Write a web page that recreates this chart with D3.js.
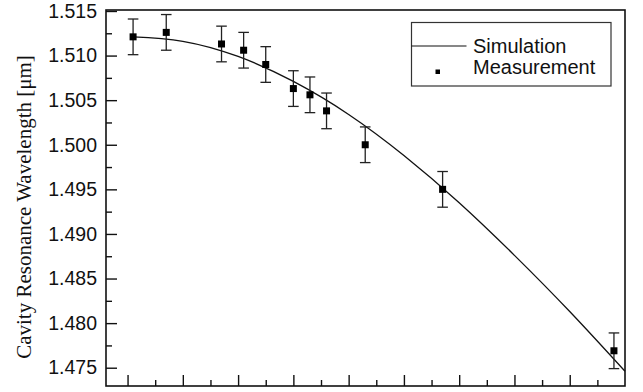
<!DOCTYPE html>
<html>
<head>
<meta charset="utf-8">
<script src="https://cdn.jsdelivr.net/npm/d3@7"></script>
<style>
  body { margin: 0; background: #fff; }
  svg text { fill: #111; }
</style>
</head>
<body>
<svg id="chart" width="643" height="392"></svg>
<script>
// measured points (x in axis units, y in um), all with +/- err
const measX = [0.1, 0.7, 1.7, 2.1, 2.5, 3.0, 3.3, 3.6, 4.3, 5.7, 8.8];
const measY = [1.5121, 1.5126, 1.5113, 1.5106, 1.5090, 1.5063, 1.5056, 1.5038, 1.5000, 1.4950, 1.4769];
const measErr = [0.002, 0.002, 0.002, 0.002, 0.002, 0.002, 0.002, 0.002, 0.002, 0.002, 0.002];

// simulation curve
const simX = [0.1, 1, 2, 3, 4, 5, 6, 7, 8, 9];
const simY = [1.5121, 1.5116, 1.5099, 1.5071, 1.5034, 1.4988, 1.4935, 1.4876, 1.4813, 1.4746];

const yTicks = [1.475, 1.480, 1.485, 1.490, 1.495, 1.500, 1.505, 1.510, 1.515];
const xTicks = [0, 1, 2, 3, 4, 5, 6, 7, 8];

const svg = d3.select('#chart');
const m = { left: 106, top: 10, right: 625, bottom: 386 };

const x = d3.scaleLinear().domain([-0.39, 9]).range([m.left, m.right]);
const y = d3.scaleLinear().domain([1.47295, 1.51511]).range([m.bottom, m.top]);

// minor ticks halfway
const yMinor = yTicks.slice(0, -1).map(v => v + 0.0025);
const xMinor = xTicks.map(v => v + 0.5);

const yAxis = d3.axisLeft(y).tickValues(yTicks).tickFormat(d3.format('.3f'))
  .tickSizeInner(-11).tickSizeOuter(0).tickPadding(9);
const yAxisMinor = d3.axisLeft(y).tickValues(yMinor).tickFormat('')
  .tickSizeInner(-6).tickSizeOuter(0);
const xAxis = d3.axisBottom(x).tickValues(xTicks).tickFormat('')
  .tickSizeInner(-11).tickSizeOuter(0);
const xAxisMinor = d3.axisBottom(x).tickValues(xMinor).tickFormat('')
  .tickSizeInner(-6).tickSizeOuter(0);

const styleAxis = g => {
  g.select('.domain').remove();
  g.selectAll('line').attr('stroke', '#111').attr('stroke-width', 1.4);
  g.selectAll('text').attr('font-family', 'Liberation Sans, Arial, sans-serif')
    .attr('font-size', 19.5).attr('fill', '#111');
};

svg.append('g').attr('transform', `translate(${m.left},0)`).call(yAxis).call(styleAxis);
svg.append('g').attr('transform', `translate(${m.left},0)`).call(yAxisMinor).call(styleAxis);
svg.append('g').attr('transform', `translate(0,${m.bottom})`).call(xAxis).call(styleAxis);
svg.append('g').attr('transform', `translate(0,${m.bottom})`).call(xAxisMinor).call(styleAxis);

// frame
svg.append('rect')
  .attr('x', m.left).attr('y', m.top)
  .attr('width', m.right - m.left).attr('height', m.bottom - m.top)
  .attr('fill', 'none').attr('stroke', '#111').attr('stroke-width', 1.6);

// y label
svg.append('text')
  .attr('transform', `translate(31,${(52 + 362) / 2}) rotate(-90)`)
  .attr('text-anchor', 'middle')
  .attr('font-family', 'Liberation Serif, Times New Roman, serif')
  .attr('font-size', 21)
  .text('Cavity Resonance Wavelength [\u03bcm]');

// simulation line
const line = d3.line().x(d => x(d[0])).y(d => y(d[1])).curve(d3.curveNatural);
svg.append('path')
  .datum(d3.zip(simX, simY))
  .attr('d', line)
  .attr('fill', 'none').attr('stroke', '#111').attr('stroke-width', 1.3);

// error bars
const meas = measX.map((v, i) => ({ x: v, y: measY[i], e: measErr[i] }));
const cap = 5.3;
const eb = svg.append('g').attr('stroke', '#222').attr('stroke-width', 1.3);
meas.forEach(d => {
  const cx = x(d.x), y0 = y(d.y - d.e), y1 = y(d.y + d.e);
  eb.append('line').attr('x1', cx).attr('x2', cx).attr('y1', y0).attr('y2', y1);
  eb.append('line').attr('x1', cx - cap).attr('x2', cx + cap).attr('y1', y0).attr('y2', y0);
  eb.append('line').attr('x1', cx - cap).attr('x2', cx + cap).attr('y1', y1).attr('y2', y1);
});

// markers
const ms = 7;
svg.append('g').selectAll('rect').data(meas).join('rect')
  .attr('x', d => x(d.x) - ms / 2).attr('y', d => y(d.y) - ms / 2)
  .attr('width', ms).attr('height', ms).attr('fill', '#000');

// legend
const lg = svg.append('g');
lg.append('rect').attr('x', 411.5).attr('y', 22.5).attr('width', 199.5).attr('height', 63.5)
  .attr('fill', '#fff').attr('stroke', '#333').attr('stroke-width', 1.2);
lg.append('line').attr('x1', 411.5).attr('x2', 466.5).attr('y1', 46).attr('y2', 46)
  .attr('stroke', '#111').attr('stroke-width', 1.2);
lg.append('rect').attr('x', 435.5).attr('y', 69.5).attr('width', 4.5).attr('height', 4.5).attr('fill', '#000');
lg.selectAll('text').data(['Simulation', 'Measurement']).join('text')
  .attr('x', 473).attr('y', (d, i) => 52.7 + i * 21)
  .attr('font-family', 'Liberation Sans, Arial, sans-serif')
  .attr('font-size', 20)
  .text(d => d);
</script>
</body>
</html>
